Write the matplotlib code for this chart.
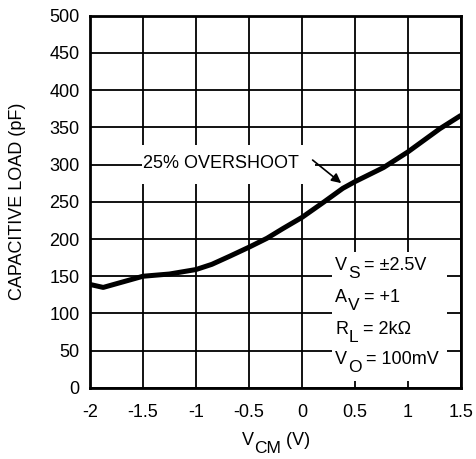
import matplotlib
matplotlib.use("Agg")
import matplotlib.pyplot as plt
from matplotlib.patches import Rectangle

plt.rcParams["font.family"] = ["Liberation Sans", "DejaVu Sans"]

# data
vcm = [-2.0, -1.875, -1.7, -1.5, -1.25, -1.0, -0.85, -0.68, -0.5, -0.33,
       -0.18, 0.0, 0.16, 0.21, 0.385, 0.5, 0.77, 1.0, 1.3, 1.5]
cap_load = [139, 135, 142, 150, 153, 159, 166, 177, 189, 201,
            214, 229, 245, 250, 268, 277, 296, 317, 348, 366]

x_ticks = [-2, -1.5, -1, -0.5, 0, 0.5, 1, 1.5]
x_tick_labels = ["-2", "-1.5", "-1", "-0.5", "0", "0.5", "1", "1.5"]
y_ticks = list(range(0, 501, 50))

# test conditions: (main letter, subscript, rest)
conditions = [
    ("V", "S", " = ±2.5V"),
    ("A", "V", " = +1"),
    ("R", "L", " = 2kΩ"),
    ("V", "O", " = 100mV"),
]
cond_y = [158, 115, 72, 32]

FS = 13
SUB_FS = 12.5
DROP = 5


def sub_text(ax, x, y, main, sub, rest, transform):
    # letter + big dropped subscript + remainder, chained by bounding box
    t1 = ax.text(x, y, main, fontsize=FS, va="baseline", ha="left",
                 transform=transform, zorder=3)
    t2 = ax.annotate(sub, xy=(1, 0), xycoords=t1, xytext=(0.3, -DROP),
                     textcoords="offset points", fontsize=SUB_FS,
                     va="bottom", ha="left", zorder=3, annotation_clip=False)
    ax.annotate(rest, xy=(1, 0), xycoords=t2, xytext=(0, DROP),
                textcoords="offset points", fontsize=FS,
                va="bottom", ha="left", zorder=3, annotation_clip=False)


fig = plt.figure(figsize=(4.76, 4.59), dpi=100)
ax = fig.add_axes([0.189, 0.1547, 0.7795, 0.8115])

ax.plot(vcm, cap_load, color="black", lw=3.6, solid_capstyle="butt", zorder=4)

ax.set_xlim(-2, 1.5)
ax.set_ylim(0, 500)
ax.set_xticks(x_ticks)
ax.set_xticklabels(x_tick_labels)
ax.set_yticks(y_ticks)
ax.tick_params(length=0, labelsize=FS, colors="black")
ax.tick_params(axis="x", pad=11.5)
ax.tick_params(axis="y", pad=7.5)
ax.grid(True, color="black", lw=1.3)
ax.set_axisbelow(True)
for s in ax.spines.values():
    s.set_linewidth(2.0)
    s.set_zorder(6)

ax.set_ylabel("CAPACITIVE LOAD (pF)", fontsize=FS)
ax.yaxis.set_label_coords(-0.172, 0.5)

# x axis label V_CM (V)
sub_text(ax, 0.41, -0.153, "V", "CM", " (V)", ax.transAxes)

# annotation with white background over the grid
ax.add_patch(Rectangle((-1.51, 274), 1.63, 52, fc="white", ec="none", zorder=2))
ax.text(-1.5, 295, "25% OVERSHOOT", fontsize=FS, va="baseline", ha="left", zorder=3)
ax.annotate("", xy=(0.37, 275), xytext=(0.1, 306),
            arrowprops=dict(arrowstyle="-|>", color="black", lw=1.2,
                            mutation_scale=14, shrinkA=0, shrinkB=0),
            zorder=3)

# test conditions box
ax.add_patch(Rectangle((0.285, 9), 1.085, 173, fc="white", ec="none", zorder=2))
for (main, sub, rest), yy in zip(conditions, cond_y):
    sub_text(ax, 0.314, yy, main, sub, rest, ax.transData)

fig.savefig("out.png", dpi=100)
